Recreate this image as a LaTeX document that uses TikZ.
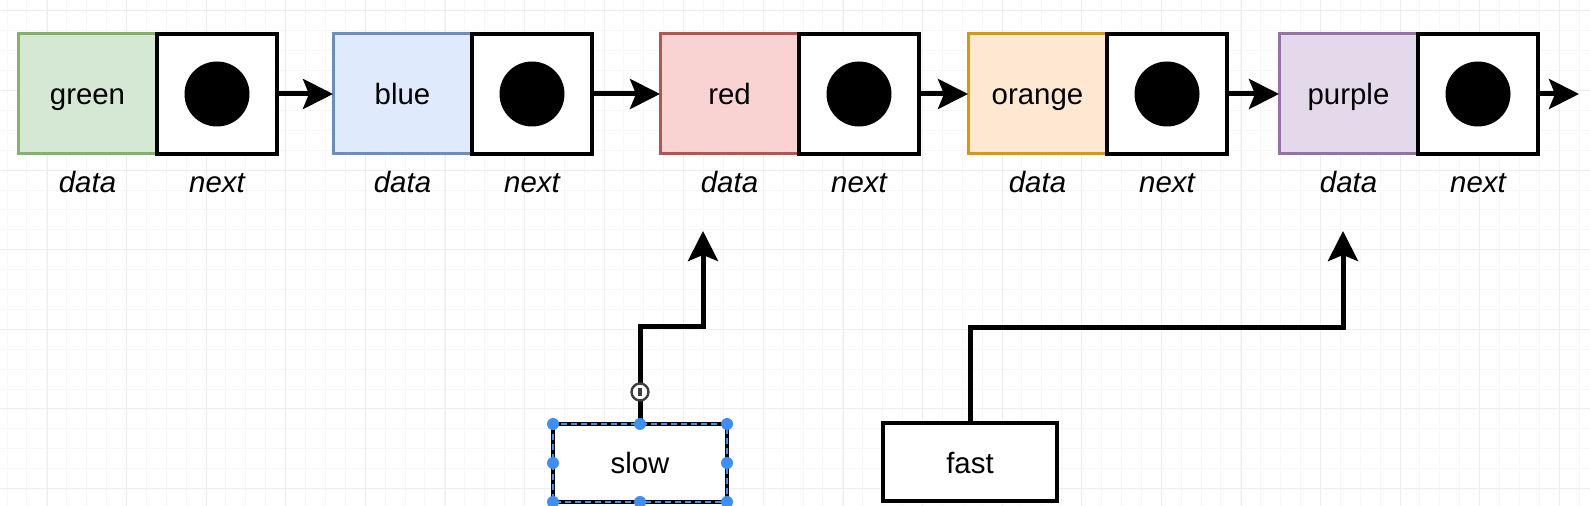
\documentclass[tikz,border=0pt]{standalone}
\usepackage{fontspec}
\setmainfont{Liberation Sans}
\usetikzlibrary{arrows.meta,positioning}

\definecolor{greenfill}{HTML}{D5E8D4}
\definecolor{greenline}{HTML}{82B366}
\definecolor{bluefill}{HTML}{DFEBFC}
\definecolor{blueline}{HTML}{6C8EBF}
\definecolor{redfill}{HTML}{F8D3D1}
\definecolor{redline}{HTML}{B85450}
\definecolor{orangefill}{HTML}{FFE8D1}
\definecolor{orangeline}{HTML}{D79B00}
\definecolor{purplefill}{HTML}{E4D9EA}
\definecolor{purpleline}{HTML}{9673A6}
\definecolor{handleblue}{HTML}{3D8EF5}
\definecolor{gridminor}{HTML}{F7F7F7}
\definecolor{gridmajor}{HTML}{EDEDED}

\tikzset{
	cell/.style={draw, line width=2pt, inner sep=0pt, outer sep=0pt, minimum height=60pt,
		text height=11pt, text depth=0pt, font=\fontsize{14.7}{17}\selectfont},
	datacell/.style={cell, line width=1.5pt, minimum width=69.5pt},
	nextcell/.style={cell, fill=white, minimum width=60pt},
	dot/.style={circle, fill=black, inner sep=0pt, minimum size=32.5pt},
	lbl/.style={inner sep=0pt, font=\fontsize{14.7}{17}\selectfont\itshape},
	varbox/.style={cell, fill=white, minimum width=87pt, minimum height=39pt},
	ptr/.style={line width=2.5pt, -{Stealth[length=15pt,width=15pt,inset=3pt]}},
	handle/.style={circle, fill=handleblue, inner sep=0pt, minimum size=6pt},
}

\begin{document}
\begin{tikzpicture}[x=0.5pt, y=-0.5pt]
	\useasboundingbox (0,0) rectangle (1590,506);
	\clip (0,0) rectangle (1590,506);
	\fill[white] (0,0) rectangle (1590,506);

\begin{scope}[line width=0.5pt]
	\foreach \k in {0,...,79}
		\draw[gridminor] ({7+19.9*\k},0) -- ++(0,506);
	\foreach \k in {0,...,25}
		\draw[gridminor] (0,{11+19.9*\k}) -- ++(1590,0);
	\foreach \k in {0,...,19}
		\draw[gridmajor] ({47+79.6*\k},0) -- ++(0,506);
	\foreach \k in {0,...,6}
		\draw[gridmajor] (0,{11+79.6*\k}) -- ++(1590,0);
\end{scope}

	\foreach \i/\cx/\txt/\fc/\lc in {1/87.5/green/greenfill/greenline, 2/402.5/blue/bluefill/blueline,
			3/729.5/red/redfill/redline, 4/1037.5/orange/orangefill/orangeline,
			5/1348.5/purple/purplefill/purpleline} {
		\node[datacell, fill=\fc, draw=\lc] (d\i) at (\cx,94) {\txt};
		\node[nextcell, right=0pt of d\i] (n\i) {};
		\node[dot] (c\i) at (n\i) {};
		\node[lbl, anchor=base] (dl\i) at ([yshift=-19.5pt]d\i.south) {data};
		\node[lbl, anchor=base] (nl\i) at ([yshift=-19.5pt]n\i.south) {next};
	}

	\foreach \i/\j in {1/2,2/3,3/4,4/5}
		\draw[ptr] (n\i.east) -- (d\j.west);
	\coordinate (tail) at (1579,94);
	\draw[ptr] (n5.east) -- (tail);

	\node[varbox] (slow) at (640,463) {slow};
	\node[varbox] (fast) at (970,462.5) {fast};

	\coordinate (slowtip) at (703,231);
	\coordinate (fasttip) at (1343,231);
	\draw[ptr] (slow.north) -- ++(0,-97) -| (slowtip);
	\draw[ptr] (fast.north) -- ++(0,-96) -| (fasttip);

	\draw[handleblue, dash pattern=on 3pt off 2pt, line width=0.9pt] (slow.north west) rectangle (slow.south east);
	\foreach \a [count=\k] in {north west, north, north east, east, south east, south, south west, west}
		\node[handle] (h\k) at (slow.\a) {};
	\node[circle, draw=black!75, fill=white, line width=1.2pt, inner sep=0pt, minimum size=8.5pt] (rot) at (640,392) {};
	\fill[black!75] ([xshift=-1.2pt,yshift=-2pt]rot.center) rectangle ([xshift=1.2pt,yshift=2pt]rot.center);
\end{tikzpicture}
\end{document}
